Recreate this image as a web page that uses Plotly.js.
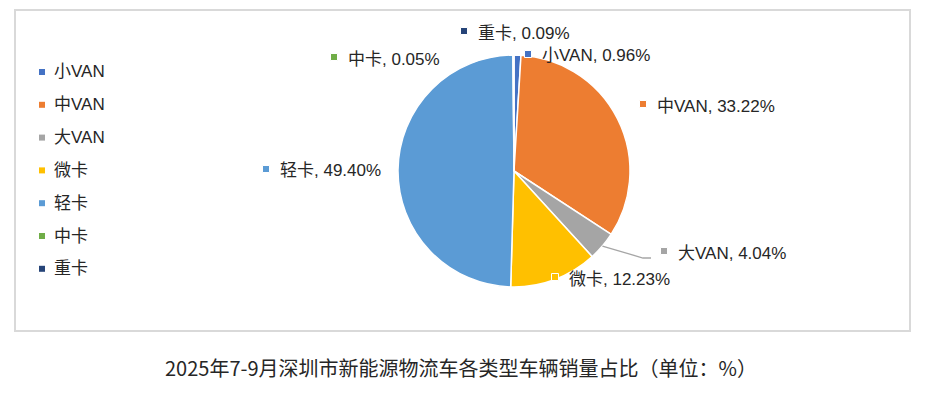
<!DOCTYPE html>
<html>
<head>
<meta charset="utf-8">
<script src="https://cdn.plot.ly/plotly-3.0.1.min.js"></script>
<style>html,body{margin:0;padding:0;background:#fff;}#chart{width:930px;height:393px;}</style>
</head>
<body>
<div id="chart"></div>
<script>
// ---- data ----
const categories = ["小VAN", "中VAN", "大VAN", "微卡", "轻卡", "中卡", "重卡"];
const shares = [0.96, 33.22, 4.04, 12.23, 49.40, 0.05, 0.09];
const colors = ["#4472C4", "#ED7D31", "#A5A5A5", "#FFC000", "#5B9BD5", "#70AD47", "#264478"];
const chartTitle = "2025年7-9月深圳市新能源物流车各类型车辆销量占比（单位：%）";

// ---- layout constants (pixels) ----
const W = 930, H = 393;
const cx = 514, cy = 171, R = 116;
// label anchor (marker square centre) positions, in pixels
const labelPos = [[528, 54], [643, 104], [664, 251], [555, 277], [266, 169], [334, 57], [464, 31]];
const legendX = 42, legendY0 = 72, legendStep = 32.8;

const px = x => x / W;
const py = y => 1 - y / H;
const FONT = '"Liberation Sans", Arial, "Noto Sans CJK SC", sans-serif';
const TXT = '#262626';

const annotations = [];
const shapes = [];

// chart frame
shapes.push({type: 'rect', xref: 'paper', yref: 'paper', x0: px(15), x1: px(910), y0: py(331), y1: py(10),
  line: {color: '#d9d9d9', width: 2}, fillcolor: 'rgba(0,0,0,0)', layer: 'below'});

// legend
categories.forEach((c, i) => {
  const y = legendY0 + i * legendStep;
  shapes.push({type: 'rect', xref: 'paper', yref: 'paper', x0: px(legendX - 3), x1: px(legendX + 3),
    y0: py(y + 3), y1: py(y - 3), line: {width: 0}, fillcolor: colors[i]});
  annotations.push({xref: 'paper', yref: 'paper', x: px(legendX + 10), y: py(y), xanchor: 'left', yanchor: 'middle',
    text: c, showarrow: false, font: {family: FONT, size: 17, color: TXT}});
});

// data labels
categories.forEach((c, i) => {
  const [lx, ly] = labelPos[i];
  shapes.push({type: 'rect', xref: 'paper', yref: 'paper', x0: px(lx - 3.5), x1: px(lx + 3.5),
    y0: py(ly + 3.5), y1: py(ly - 3.5), line: {width: 1, color: '#ffffff'}, fillcolor: colors[i], layer: 'above'});
  annotations.push({xref: 'paper', yref: 'paper', x: px(lx + 12), y: py(ly + 2), xanchor: 'left', yanchor: 'middle',
    text: c + ', ' + shares[i].toFixed(2) + '%', showarrow: false, font: {family: FONT, size: 17, color: TXT}});
});

// leader line for 大VAN, starting at the slice's mid-angle on the rim
(function () {
  const total = shares.reduce((a, b) => a + b, 0);
  let cum = 0;
  for (let i = 0; i < 2; i++) cum += shares[i];
  const mid = (cum + shares[2] / 2) / total * 2 * Math.PI;
  const sx = cx + R * Math.sin(mid), sy = cy - R * Math.cos(mid);
  shapes.push({type: 'path', xref: 'paper', yref: 'paper',
    path: `M${px(sx)},${py(sy)} L${px(643)},${py(258)} L${px(651)},${py(258)}`,
    line: {color: '#A6A6A6', width: 1.3}});
})();

// title below frame
annotations.push({xref: 'paper', yref: 'paper', x: px(461), y: py(367), xanchor: 'center', yanchor: 'middle',
  text: chartTitle, showarrow: false, font: {family: '"Noto Sans CJK SC", sans-serif', size: 20, color: TXT}});

const trace = {
  type: 'pie',
  labels: categories,
  values: shares,
  sort: false,
  direction: 'clockwise',
  rotation: 0,
  textinfo: 'none',
  hoverinfo: 'label+percent',
  marker: {colors: colors, line: {color: '#ffffff', width: 1.5}},
  domain: {x: [px(cx - R), px(cx + R)], y: [py(cy + R), py(cy - R)]},
  showlegend: false
};

const layout = {
  width: W, height: H,
  margin: {l: 0, r: 0, t: 0, b: 0},
  paper_bgcolor: '#ffffff',
  showlegend: false,
  shapes: shapes,
  annotations: annotations
};

Plotly.newPlot('chart', [trace], layout, {displayModeBar: false, staticPlot: true});
</script>
</body>
</html>
